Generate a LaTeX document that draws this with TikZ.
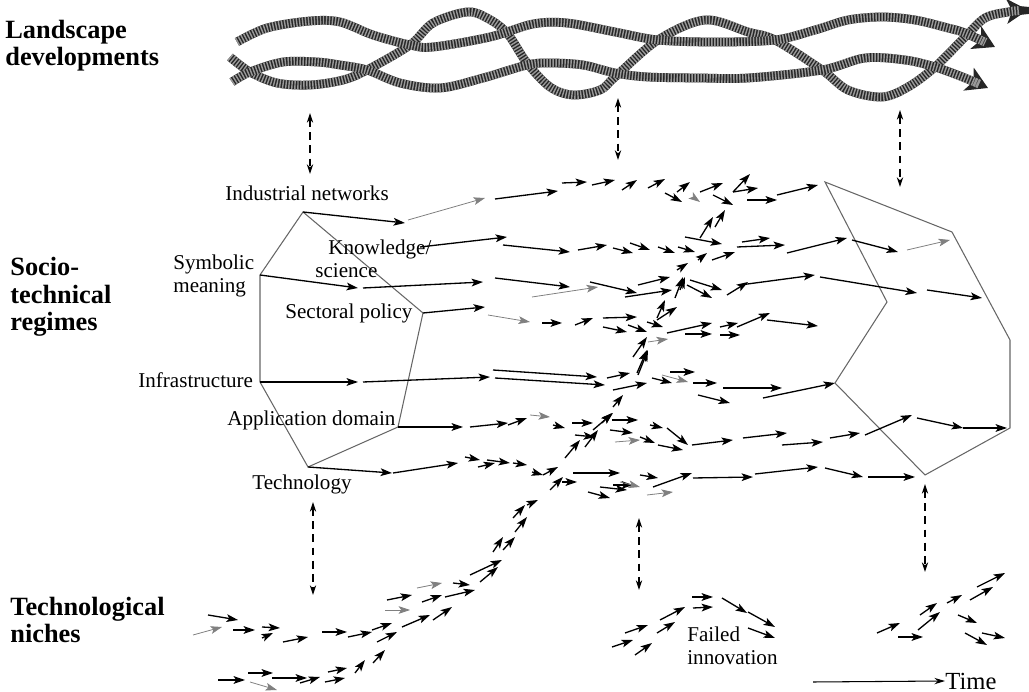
\documentclass[tikz,border=0pt]{standalone}
\usepackage{fontspec}
\setmainfont{Liberation Serif}
\usetikzlibrary{arrows.meta}

\tikzset{
  trail/.style={line width=0.75pt, -{Stealth[length=6.5pt,width=4.4pt,inset=1.5pt]}},
  faint/.style={trail, draw=black!50, line width=0.45pt},
  frame/.style={draw=black!60, line width=0.6pt},
  link/.style={line width=0.6pt, dash pattern=on 4.5pt off 3pt, {Stealth[length=5.5pt,width=3.6pt]}-{Stealth[length=5.5pt,width=3.6pt]}},
  ribbon/.style={line width=5pt, draw=black!85, -{Stealth[length=12pt,width=14pt,inset=3pt]},
    postaction={draw=black!40, line width=5pt, dash pattern=on 0.8pt off 0.9pt, shorten >=9pt, -}},
  level/.style={font=\fontsize{15}{15.5}\selectfont\bfseries, align=left, anchor=west, inner sep=0pt},
  element/.style={font=\fontsize{12}{13}\selectfont, align=left, anchor=west, inner sep=0pt},
}

\begin{document}
\begin{tikzpicture}[x=0.02cm, y=-0.02cm]
    \useasboundingbox (0,0) rectangle (1029,692);

    % Levels
    \node[level] (land) at (5,46) {Landscape\\developments};
    \node[level] (regi) at (10,297) {Socio-\\technical\\regimes};
    \node[level] (nich) at (10,620) {Technological\\niches};

    % Landscape ribbons
    \draw[ribbon] plot[smooth, tension=0.55] coordinates {(230,57) (250,72) (277,83) (310,85) (343,80) (367,70) (410,45) (433,23) (467,12) (487,18) (507,33) (527,63) (550,87) (573,95) (600,90) (615,77) (658,40) (705,20) (748,32) (775,40) (822,70) (848,90) (882,97) (908,87) (935,67) (965,37) (985,18) (1008,12) (1028,10)};
    \draw[ribbon] plot[smooth, tension=0.55] coordinates {(232,82) (250,72) (283,62) (317,62) (340,65) (367,70) (400,83) (440,88) (483,78) (527,65) (550,63) (583,65) (615,73) (648,77) (700,78) (748,78) (822,70) (865,58) (905,60) (935,67) (965,78) (988,88)};
    \draw[ribbon] plot[smooth, tension=0.55] coordinates {(237,42) (267,28) (310,21) (340,22) (373,35) (410,45) (433,47) (490,37) (533,24) (567,23) (615,32) (658,40) (715,42) (775,40) (815,30) (848,20) (882,17) (915,20) (948,28) (965,33) (995,47)};

    % Regime (left)
    \coordinate (ind) at (303,212);
    \coordinate (sec) at (423,313);
    \coordinate (app) at (398,427);
    \coordinate (tec) at (308,467);
    \coordinate (inf) at (260,382);
    \coordinate (sym) at (260,275);
    \draw[frame] (ind) -- (sec) -- (app) -- (tec) -- (inf) -- (sym) -- cycle;

    \node[element] (indl) at (225,193) {Industrial networks};
    \node[element] (know) at (328,249) {Knowledge/};
    \node[element] (scie) at (315,271) {science};
    \node[element] (syml) at (173,276) {Symbolic\\meaning};
    \node[element] (secl) at (285,313) {Sectoral policy};
    \node[element] (infl) at (138,380) {Infrastructure};
    \node[element] (appl) at (227,420) {Application domain};
    \node[element] (tecl) at (252,484) {Technology};

    % Regime (right)
    \coordinate (q1) at (825,182);
    \coordinate (q2) at (952,232);
    \coordinate (q3) at (1010,340);
    \coordinate (q4) at (1010,428);
    \coordinate (q5) at (925,475);
    \coordinate (q6) at (835,383);
    \coordinate (q7) at (887,302);
    \draw[frame] (q1) -- (q2) -- (q3) -- (q4) -- (q5) -- (q6) -- (q7) -- cycle;

    % Trajectories from the regime elements
    \draw[trail] (ind) -- (405,223);
    \draw[trail] (sym) -- (358,288);
    \draw[trail] (sec) -- (485,307);
    \draw[trail] (inf) -- (358,382);
    \draw[trail] (app) -- (463,427);
    \draw[trail] (tec) -- (392,473);

    \foreach \xa/\ya/\xb/\yb in {495/199/558/191, 562/183/587/182, 592/185/615/180, 622/190/637/180, 648/188/665/179, 665/193/682/202, 677/192/690/182, 700/192/723/183, 733/192/750/174, 733/192/758/188, 713/195/733/205, 747/200/777/200, 777/195/818/185,
      420/247/507/237, 503/245/570/252, 578/250/607/245, 613/248/633/253, 630/243/650/250, 658/247/675/253, 678/247/695/252, 685/237/722/244, 700/238/713/217, 715/227/725/210, 698/260/707/253, 712/260/735/252, 742/242/770/238, 737/247/785/245, 787/253/847/238, 852/240/898/252,
      363/288/483/282, 495/278/570/287, 590/282/637/293, 638/285/670/277, 625/297/672/290, 675/298/683/277, 677/270/688/263, 690/280/722/290, 687/285/712/298, 727/295/748/282, 740/285/815/275, 820/277/917/293, 927/290/982/298,
      542/323/562/323, 575/325/593/318, 603/318/637/317, 603/327/627/332, 628/325/647/332, 647/322/663/327, 667/333/712/323, 685/334/712/334, 720/327/738/323, 737/327/770/313, 767/320/818/326, 720/335/740/335,
      633/357/647/337, 638/375/648/350, 657/318/665/300, 657/320/677/307, 680/290/685/277,
      363/382/490/377, 493/370/597/377, 495/378/605/385, 607/378/630/373, 613/390/647/383, 652/378/672/383, 670/372/695/372, 693/383/717/383, 698/395/730/403, 723/388/782/388, 763/398/835/383, 637/373/647/350, 613/407/623/395, 602/423/612/413,
      470/427/508/423, 508/425/527/418, 553/425/565/428, 572/423/593/423, 575/435/595/437, 593/430/613/413, 612/420/638/420, 610/430/633/433, 640/437/655/443, 650/425/663/428, 667/428/688/445, 658/445/683/450, 692/445/733/440, 743/438/787/433, 782/445/823/442, 830/438/860/433, 865/435/912/415, 917/418/963/428, 963/428/1007/428,
      393/473/458/463, 465/457/480/460, 478/467/495/463, 487/460/510/463, 513/463/527/465, 532/472/543/475, 543/475/558/467, 550/490/563/477, 562/482/577/482, 573/473/620/473, 588/492/610/498, 613/485/633/485, 640/475/658/478, 600/487/627/490, 653/487/692/473, 693/478/753/477, 755/474/818/467, 825/468/863/477, 868/477/915/477, 565/458/580/440, 585/447/598/430}
      \draw[trail] (\xa,\ya) -- (\xb,\yb);

    \foreach \xa/\ya/\xb/\yb in {408/220/485/198, 693/197/700/202, 532/297/598/287, 488/315/530/322, 907/250/950/240, 648/342/668/339, 662/375/688/382, 615/442/640/440, 620/482/640/487, 647/495/673/492, 530/415/550/417}
      \draw[faint] (\xa,\ya) -- (\xb,\yb);

    % Niches
    \foreach \xa/\ya/\xb/\yb in {208/615/238/620, 233/630/255/630, 262/627/280/628, 262/638/273/633, 283/642/308/637, 322/632/347/632, 348/637/372/632, 372/630/392/623, 377/642/397/632, 387/600/412/595, 402/627/430/615, 422/602/442/595, 433/620/452/607, 445/597/475/590, 453/583/470/585, 470/575/502/560, 480/582/498/567, 493/552/503/537, 503/550/515/537, 515/532/527/517, 513/518/525/505, 527/505/538/500,
      218/680/245/680, 248/673/273/673, 272/678/307/678, 300/683/320/677, 325/682/345/678, 328/672/347/668, 355/673/365/660, 373/663/385/650,
      612/647/633/640, 625/633/648/625, 635/655/652/643, 657/633/675/622, 660/620/685/607, 692/597/713/597, 693/608/713/607, 722/598/747/613, 748/612/775/627, 748/628/775/638,
      877/633/900/623, 898/637/923/637, 918/630/940/612, 920/615/937/603, 947/603/962/595, 970/600/993/587, 977/587/1005/573, 958/615/977/623, 965/633/987/645, 982/633/1005/638}
      \draw[trail] (\xa,\ya) -- (\xb,\yb);

    \foreach \xa/\ya/\xb/\yb in {193/635/222/627, 385/610/410/610, 417/588/442/583, 250/682/277/690}
      \draw[faint] (\xa,\ya) -- (\xb,\yb);

    \node[element] (fail) at (687,646) {Failed\\innovation};

    % Links between levels
    \coordinate (l1a) at (310,113);
    \coordinate (l1b) at (310,174);
    \coordinate (l2a) at (618,98);
    \coordinate (l2b) at (618,160);
    \coordinate (l3a) at (900,110);
    \coordinate (l3b) at (900,187);
    \coordinate (n1a) at (313,502);
    \coordinate (n1b) at (313,595);
    \coordinate (n2a) at (639,518);
    \coordinate (n2b) at (639,590);
    \coordinate (n3a) at (925,484);
    \coordinate (n3b) at (925,572);
    \draw[link] (l1a) -- (l1b);
    \draw[link] (l2a) -- (l2b);
    \draw[link] (l3a) -- (l3b);
    \draw[link] (n1a) -- (n1b);
    \draw[link] (n2a) -- (n2b);
    \draw[link] (n3a) -- (n3b);

    % Time axis
    \node[element, font=\fontsize{14}{15}\selectfont] (time) at (945,681) {Time};
    \coordinate (t0) at (813,682);
    \draw[line width=0.6pt, -{Stealth[length=6pt,width=3.6pt]}] (t0) -- (time.west);
\end{tikzpicture}
\end{document}
